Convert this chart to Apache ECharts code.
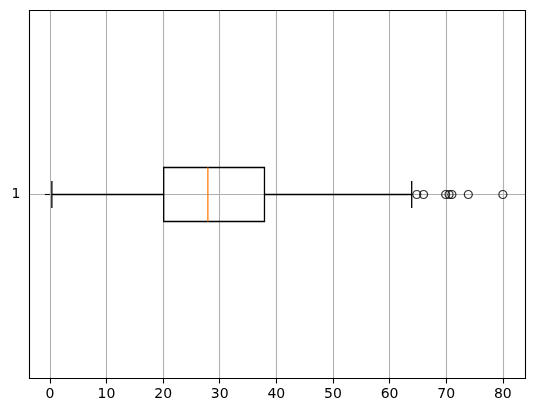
<!DOCTYPE html>
<html>
<head>
<meta charset="utf-8">
<script src="https://cdn.jsdelivr.net/npm/echarts@6/dist/echarts.min.js"></script>
<style>
  html, body { margin: 0; padding: 0; background: #fff; }
  #chart { width: 534px; height: 413px; }
</style>
</head>
<body>
<div id="chart"></div>
<script>
// box statistics (one box, at y = 1)
const positions = [1]
const whiskerLow = [0.35]
const q1 = [20.1]
const median = [27.9]
const q3 = [37.9]
const whiskerHigh = [63.9]
const outliers = [64.8, 66.0, 69.9, 70.5, 71.0, 73.9, 80.0]

const xTicks = [0, 10, 20, 30, 40, 50, 60, 70, 80]
const yTicks = [1]

const boxData = positions.map((p, i) => [p, whiskerLow[i], q1[i], median[i], q3[i], whiskerHigh[i]])
const outlierData = outliers.map((v) => [v, positions[0]])

const font = 'DejaVu Sans'
const boxHalf = 27
const capHalf = 13.5

const renderBox = (params, api) => {
  const y = api.value(0)
  const pLow = api.coord([api.value(1), y])
  const pQ1 = api.coord([api.value(2), y])
  const pMed = api.coord([api.value(3), y])
  const pQ3 = api.coord([api.value(4), y])
  const pHigh = api.coord([api.value(5), y])
  const cy = pQ1[1]
  const line = (x1, y1, x2, y2, color) => ({
    type: 'line',
    shape: { x1, y1, x2, y2 },
    style: { stroke: color || '#000', lineWidth: 1.3 },
  })
  return {
    type: 'group',
    children: [
      line(pLow[0], cy, pQ1[0], cy),
      line(pQ3[0], cy, pHigh[0], cy),
      line(pLow[0], cy - capHalf, pLow[0], cy + capHalf),
      line(pHigh[0], cy - capHalf, pHigh[0], cy + capHalf),
      {
        type: 'rect',
        shape: { x: pQ1[0], y: cy - boxHalf, width: pQ3[0] - pQ1[0], height: boxHalf * 2 },
        style: { fill: 'none', stroke: '#000', lineWidth: 1.3 },
      },
      line(pMed[0], cy - boxHalf, pMed[0], cy + boxHalf, '#ff7f0e'),
    ],
  }
}

const chart = echarts.init(document.getElementById('chart'), null, { renderer: 'canvas' })

chart.setOption({
  animation: false,
  backgroundColor: '#fff',
  grid: {
    left: 29.5,
    right: 8.5,
    top: 10.5,
    bottom: 34.5,
    show: true,
    borderColor: '#000',
    borderWidth: 1.1,
    backgroundColor: 'transparent',
    z: 5,
  },
  xAxis: {
    type: 'value',
    min: -3.6,
    max: 84,
    axisLine: { show: false },
    axisTick: {
      show: true,
      length: 5,
      customValues: xTicks,
      lineStyle: { color: '#000', width: 1.1 },
    },
    axisLabel: {
      customValues: xTicks,
      margin: 9,
      color: '#000',
      fontFamily: font,
      fontSize: 14,
    },
    splitLine: { show: true, lineStyle: { color: '#b0b0b0', width: 1.1 } },
  },
  yAxis: {
    type: 'value',
    min: 0,
    max: 2,
    axisLine: { show: false },
    axisTick: {
      show: true,
      length: 5,
      customValues: yTicks,
      lineStyle: { color: '#000', width: 1.1 },
    },
    axisLabel: {
      customValues: yTicks,
      margin: 9,
      color: '#000',
      fontFamily: font,
      fontSize: 14,
    },
    splitLine: { show: true, lineStyle: { color: '#b0b0b0', width: 1.1 } },
  },
  series: [
    {
      type: 'custom',
      renderItem: renderBox,
      data: boxData,
      encode: { x: [1, 2, 3, 4, 5], y: 0 },
      z: 3,
    },
    {
      type: 'scatter',
      data: outlierData,
      symbol: 'circle',
      symbolSize: 8,
      itemStyle: { color: 'transparent', borderColor: '#000', borderWidth: 1.2 },
      z: 4,
    },
  ],
})
</script>
</body>
</html>
